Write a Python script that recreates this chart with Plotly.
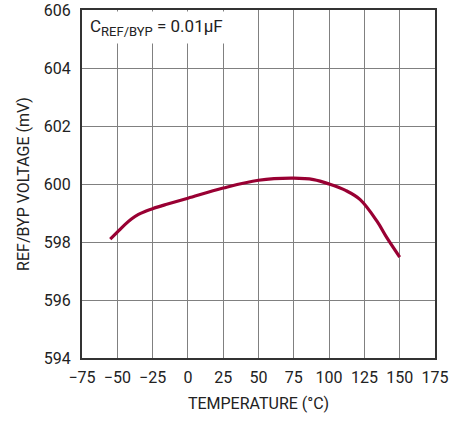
import plotly.graph_objects as go

temp_c = [-55, -50, -45, -40, -35, -30, -25, -15, 0, 25, 50, 75, 89, 100, 112, 122, 134, 141, 150]
voltage_mv = [598.10, 598.34, 598.58, 598.79, 598.95, 599.06, 599.15, 599.30, 599.51, 599.86,
              600.13, 600.20, 600.15, 600.00, 599.77, 599.46, 598.71, 598.14, 597.48]

x_ticks = [-75, -50, -25, 0, 25, 50, 75, 100, 125, 150, 175]
x_tick_text = ["−75", "−50", "−25", "0", "25", "50", "75", "100", "125", "150", "175"]
y_ticks = [594, 596, 598, 600, 602, 604, 606]

FONT = "Roboto, Liberation Sans, Arial, sans-serif"
FS = 16

fig = go.Figure()
fig.add_trace(go.Scatter(
    x=temp_c, y=voltage_mv, mode="lines",
    line=dict(color="#990033", width=3.2, shape="spline", smoothing=1.0),
    hoverinfo="skip", showlegend=False,
))

fig.add_annotation(
    x=-75, y=606, xref="x", yref="y", xanchor="left", yanchor="top",
    text="C<sub><span style='font-size:13px'>REF/BYP</span></sub> = 0.01µF", showarrow=False,
    font=dict(family=FONT, size=17, color="#222"),
    bgcolor="white", borderpad=4, xshift=3, yshift=-1,
)

fig.update_xaxes(
    range=[-75, 175], tickvals=x_ticks, ticktext=x_tick_text,
    showgrid=True, gridcolor="#808080", gridwidth=1,
    showline=True, linecolor="#333", linewidth=2, mirror=True,
    ticks="", zeroline=False, automargin=False, ticklabelstandoff=4,
    tickfont=dict(family=FONT, size=FS, color="#222"),
    title=dict(text="TEMPERATURE (°C)", font=dict(family=FONT, size=FS, color="#222"), standoff=12),
)
fig.update_yaxes(
    range=[594, 606], tickvals=y_ticks,
    showgrid=True, gridcolor="#808080", gridwidth=1,
    showline=True, linecolor="#333", linewidth=2, mirror=True,
    ticks="", zeroline=False, automargin=False, ticklabelstandoff=6,
    ticklabeloverflow="allow",
    tickfont=dict(family=FONT, size=FS, color="#222"),
    title=dict(text="REF/BYP VOLTAGE (mV)", font=dict(family=FONT, size=FS, color="#222"), standoff=10),
)

fig.update_layout(
    width=463, height=421,
    margin=dict(l=82, r=28, t=10, b=63),
    paper_bgcolor="white", plot_bgcolor="white",
    font=dict(family=FONT),
)

fig.write_html("out.html", config={"displayModeBar": False},
               post_script="document.body.style.margin='0';")
